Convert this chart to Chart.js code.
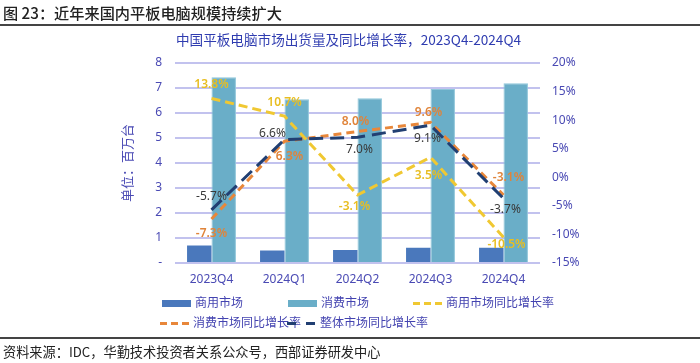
<!DOCTYPE html>
<html><head><meta charset="utf-8">
<script src="https://cdn.jsdelivr.net/npm/chart.js@4/dist/chart.umd.min.js"></script>
<style>
body{margin:0;width:700px;height:363px;position:relative;background:#fff;font-family:"Noto Sans CJK SC","Noto Sans",sans-serif;overflow:hidden}
#c{position:absolute;left:0;top:0}
.abs{position:absolute;white-space:nowrap;line-height:1}
.lg{position:absolute;font-size:12px;color:#4343B0;line-height:1;white-space:nowrap}
</style></head><body>
<canvas id="c" width="700" height="363"></canvas>
<div class="abs" style="left:3px;top:5px;font-size:15.2px;color:#222;font-weight:500">图 23：近年来国内平板电脑规模持续扩大</div>
<div class="abs" style="left:0;top:24px;width:700px;height:1.5px;background:#444"></div>
<div class="abs" style="left:176px;top:33px;font-size:13.6px;color:#2F3CB0">中国平板电脑市场出货量及同比增长率，2023Q4-2024Q4</div>
<div class="abs" style="left:0;top:337px;width:700px;height:1.5px;background:#444"></div>
<div class="abs" style="left:3px;top:345px;font-size:13.2px;color:#222">资料来源：IDC，华勤技术投资者关系公众号，西部证券研发中心</div>
<div id="legend"></div>
<script>
const categories = ['2023Q4','2024Q1','2024Q2','2024Q3','2024Q4'];
const commercialShip = [0.70, 0.50, 0.52, 0.61, 0.61];
const consumerShip = [7.43, 6.55, 6.59, 6.96, 7.19];
const commercialYoY = [13.8, 10.7, -3.1, 3.5, -10.5];
const consumerYoY = [-7.3, 6.3, 8.0, 9.6, -3.1];
const overallYoY = [-5.7, 6.6, 7.0, 9.1, -3.7];
const leftTicks = [0,1,2,3,4,5,6,7,8];
const rightTicks = [-15,-10,-5,0,5,10,15,20];
const seriesNames = ['商用市场','消费市场','商用市场同比增长率','消费市场同比增长率','整体市场同比增长率'];

const C_COM = '#4A78BC', C_CON = '#6AAEC8', C_YEL = '#F0C832', C_ORA = '#E8873A', C_NAV = '#213F72';
const TICK = '#4A4AB4';
const GRID = '#C2C2EE';

// gridlines drawn on the canvas before the datasets (behind bars and lines)
const gridPlugin = {
  id: 'hgrid',
  beforeDatasetsDraw(chart) {
    const ctx = chart.ctx, ys = chart.scales.y, a = chart.chartArea;
    ctx.save();
    ctx.setLineDash([]);
    ctx.strokeStyle = GRID;
    ctx.lineWidth = 2;
    for (const v of leftTicks) {
      const py = Math.round(ys.getPixelForValue(v));
      ctx.beginPath();
      ctx.moveTo(a.left, py);
      ctx.lineTo(a.right, py);
      ctx.stroke();
    }
    ctx.restore();
  }
};

const labelPlugin = {
  id: 'lbls',
  afterDatasetsDraw(chart) {
    const ctx = chart.ctx;
    chart.data.datasets.forEach((ds, i) => {
      if (!ds.labelOffsets) return;
      const meta = chart.getDatasetMeta(i);
      meta.data.forEach((pt, j) => {
        const [dx, dy] = ds.labelOffsets[j];
        ctx.save();
        ctx.font = (ds.labelBold ? '600 ' : '') + '12px "Noto Sans","Noto Sans CJK SC",sans-serif';
        ctx.fillStyle = ds.labelColor;
        ctx.textAlign = 'center';
        ctx.textBaseline = 'middle';
        ctx.fillText(ds.data[j].toFixed(1) + '%', pt.x + dx, pt.y + dy);
        ctx.restore();
      });
    });
  }
};

new Chart(document.getElementById('c'), {
  data: {
    labels: categories,
    datasets: [
      {type:'bar', label:seriesNames[0], data:commercialShip, backgroundColor:C_COM, yAxisID:'y', order:10, categoryPercentage:0.67, barPercentage:1},
      {type:'bar', label:seriesNames[1], data:consumerShip, backgroundColor:C_CON, borderColor:'#8FC6DA', borderWidth:1, yAxisID:'y', order:10, categoryPercentage:0.67, barPercentage:1},
      {type:'line', label:seriesNames[2], data:commercialYoY, borderColor:C_YEL, borderWidth:3, borderDash:[9,5], pointRadius:0, yAxisID:'y1', order:3, fill:false,
        labelColor:'#E8BE22', labelBold:true, labelOffsets:[[0,-14],[0,-14],[-3,12],[-2,18],[3,7]]},
      {type:'line', label:seriesNames[3], data:consumerYoY, borderColor:C_ORA, borderWidth:3, borderDash:[8,5], pointRadius:0, yAxisID:'y1', order:2, fill:false,
        labelColor:'#E0843A', labelBold:true, labelOffsets:[[0,15],[5,15],[-2,-10],[-2,-10],[5,-17]]},
      {type:'line', label:seriesNames[4], data:overallYoY, borderColor:C_NAV, borderWidth:3, borderDash:[14,7], pointRadius:0, yAxisID:'y1', order:1, fill:false,
        labelColor:'#3A3A3A', labelBold:false, labelOffsets:[[0,-13],[-12,-6],[2,12],[-3,13],[2,11]]}
    ]
  },
  options: {
    responsive:false, animation:false,
    layout:{padding:{left:119, right:0, top:63, bottom:0}},
    plugins:{legend:{display:false}, tooltip:{enabled:false}},
    scales:{
      x:{grid:{display:false, drawTicks:false}, border:{display:false},
         ticks:{color:TICK, font:{size:12, family:'"Noto Sans",sans-serif'}, padding:9, maxRotation:0},
         afterFit(s){ s.height = 100; }},
      y:{position:'left', min:leftTicks[0], max:leftTicks[leftTicks.length-1],
         grid:{display:true, drawTicks:false, color:GRID, lineWidth:2}, border:{display:false},
         ticks:{stepSize:1, color:TICK, font:{size:12, family:'"Noto Sans",sans-serif'}, padding:13, callback:v=> v===0 ? '-' : v},
         title:{display:true, text:'单位：百万台', color:TICK, font:{size:13, family:'"Noto Sans CJK SC",sans-serif'}, padding:0},
         afterFit(s){ s.width = 56; }},
      y1:{position:'right', min:rightTicks[0], max:rightTicks[rightTicks.length-1],
         grid:{display:false, drawTicks:false}, border:{display:false},
         ticks:{stepSize:5, color:TICK, font:{size:12, family:'"Noto Sans",sans-serif'}, padding:12, callback:v=> v+'%'},
         afterFit(s){ s.width = 160; }}
    }
  },
  plugins:[gridPlugin, labelPlugin]
});

// legend
const lg = document.getElementById('legend');
const items = [
  {name:seriesNames[0], x:162, y:303, kind:'box', color:C_COM},
  {name:seriesNames[1], x:288, y:303, kind:'box', color:C_CON},
  {name:seriesNames[2], x:413, y:303, kind:'dash', color:C_YEL, d:7, g:4},
  {name:seriesNames[3], x:160, y:323, kind:'dash', color:C_ORA, d:7, g:4},
  {name:seriesNames[4], x:287, y:323, kind:'dash', color:C_NAV, d:9, g:10}
];
items.forEach(it=>{
  const m = document.createElement('div');
  m.style.position='absolute';
  m.style.left = it.x+'px';
  m.style.width = '29px';
  if (it.kind==='box'){
    m.style.top=(it.y-3.5)+'px'; m.style.height='7px'; m.style.background=it.color;
  } else {
    m.style.top=(it.y-1.5)+'px'; m.style.height='3px';
    m.style.background=`repeating-linear-gradient(90deg, ${it.color} 0 ${it.d}px, transparent ${it.d}px ${it.d+it.g}px)`;
  }
  lg.appendChild(m);
  const t = document.createElement('div');
  t.className='lg'; t.textContent=it.name;
  t.style.left=(it.x+33)+'px'; t.style.top=(it.y-7)+'px';
  lg.appendChild(t);
});
</script>
</body></html>
